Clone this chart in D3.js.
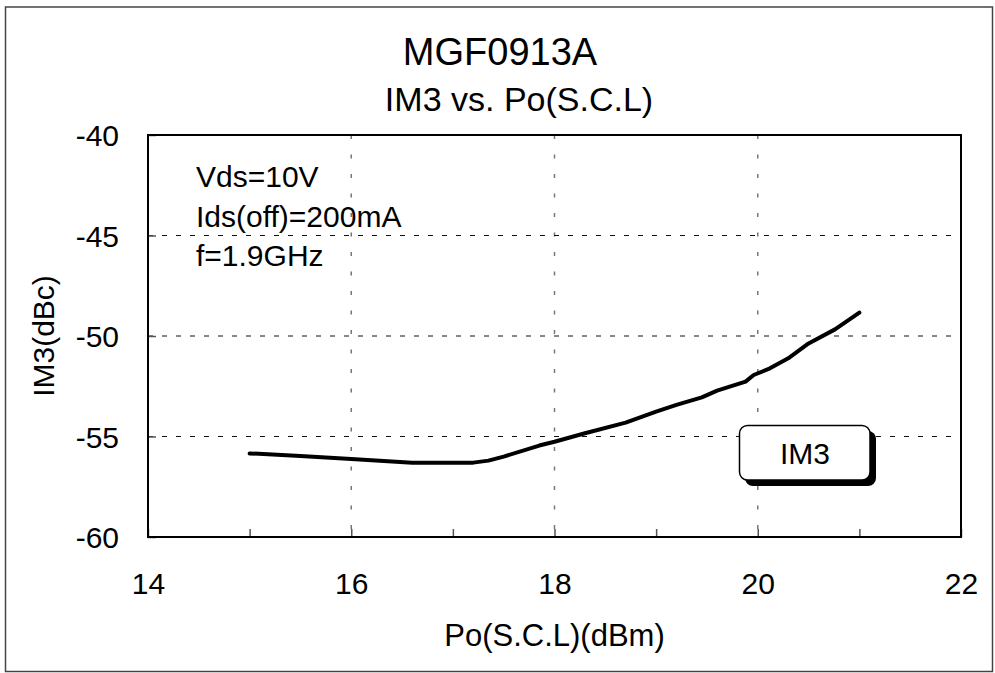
<!DOCTYPE html>
<html>
<head>
<meta charset="utf-8">
<script src="https://cdn.jsdelivr.net/npm/d3@7"></script>
<style>
  body { margin: 0; background: #fff; }
  text { font-family: "Liberation Sans", Arial, sans-serif; fill: #000; }
</style>
</head>
<body>
<div id="chart-area"></div>
<script>
const titleLines = ["MGF0913A", "IM3 vs. Po(S.C.L)"];
const noteLines = ["Vds=10V", "Ids(off)=200mA", "f=1.9GHz"];
const seriesName = "IM3";
const xTicks = [14, 15, 16, 17, 18, 19, 20, 21, 22];
const yTicks = [-60, -55, -50, -45, -40];
const po = [15, 15.5, 16, 16.6, 17.2, 17.35, 17.5, 17.85, 18, 18.3, 18.7, 19, 19.2, 19.45, 19.6, 19.88, 19.96, 20.12, 20.3, 20.5, 20.76, 21];
const im3 = [-55.84, -55.97, -56.12, -56.3, -56.3, -56.2, -56.0, -55.45, -55.26, -54.84, -54.31, -53.76, -53.43, -53.05, -52.72, -52.27, -51.94, -51.61, -51.11, -50.37, -49.67, -48.84];

const chartSize = { width: 995, height: 673 };
const plot = { left: 148, right: 961, top: 135, bottom: 537 };
const fontFamily = "Liberation Sans, Arial, sans-serif";

const svg = d3.select("#chart-area")
  .append("svg")
  .attr("width", chartSize.width)
  .attr("height", chartSize.height);

// outer frame
svg.append("rect")
  .attr("x", 5.5).attr("y", 7)
  .attr("width", 987).attr("height", 664.5)
  .attr("fill", "none")
  .attr("stroke", "#444")
  .attr("stroke-width", 1.5);

const x = d3.scaleLinear().domain([14, 22]).range([plot.left, plot.right]);
const y = d3.scaleLinear().domain([-60, -40]).range([plot.bottom, plot.top]);

// grid
svg.append("g")
  .selectAll("line")
  .data([16, 18, 20])
  .join("line")
  .attr("x1", d => x(d)).attr("x2", d => x(d))
  .attr("y1", plot.top).attr("y2", plot.bottom)
  .attr("stroke", "#777")
  .attr("stroke-width", 1.5)
  .attr("stroke-dasharray", "4,15.5");

svg.append("g")
  .selectAll("line")
  .data([-45, -50, -55])
  .join("line")
  .attr("x1", plot.left).attr("x2", plot.right)
  .attr("y1", d => y(d)).attr("y2", d => y(d))
  .attr("stroke", "#111")
  .attr("stroke-width", 1)
  .attr("stroke-dasharray", "5,9");

// axes
const xAxis = d3.axisBottom(x)
  .tickValues(xTicks)
  .tickSizeInner(-8)
  .tickSizeOuter(0)
  .tickPadding(36)
  .tickFormat(d => d % 2 === 0 ? String(d) : "");

const gx = svg.append("g")
  .attr("transform", `translate(0,${plot.bottom})`)
  .call(xAxis);
gx.select(".domain").remove();
gx.selectAll("line").attr("stroke", "#555").attr("stroke-width", 1.5);
gx.selectAll("text").attr("font-size", 30).attr("font-family", fontFamily);

const yAxis = d3.axisLeft(y)
  .tickValues(yTicks)
  .tickSizeInner(-8)
  .tickSizeOuter(0)
  .tickPadding(29)
  .tickFormat(d => String(d));

const gy = svg.append("g")
  .attr("transform", `translate(${plot.left},0)`)
  .call(yAxis);
gy.select(".domain").remove();
gy.selectAll("line").attr("stroke", "#555").attr("stroke-width", 1.5);
gy.selectAll("text")
  .attr("dy", "0.36em")
  .attr("font-size", 30)
  .attr("font-family", fontFamily);

// plot frame
svg.append("rect")
  .attr("x", plot.left).attr("y", plot.top)
  .attr("width", plot.right - plot.left)
  .attr("height", plot.bottom - plot.top)
  .attr("fill", "none")
  .attr("stroke", "#000")
  .attr("stroke-width", 2);

// curve
const line = d3.line()
  .x((d, i) => x(po[i]))
  .y(d => y(d));

svg.append("path")
  .datum(im3)
  .attr("d", line)
  .attr("fill", "none")
  .attr("stroke", "#000")
  .attr("stroke-width", 4)
  .attr("stroke-linecap", "round")
  .attr("stroke-linejoin", "round");

// titles
svg.append("text")
  .attr("x", 500).attr("y", 65)
  .attr("text-anchor", "middle")
  .attr("font-size", 38)
  .text(titleLines[0]);

svg.append("text")
  .attr("x", 519).attr("y", 111)
  .attr("text-anchor", "middle")
  .attr("font-size", 34)
  .text(titleLines[1]);

// axis labels
svg.append("text")
  .attr("x", (plot.left + plot.right) / 2).attr("y", 646)
  .attr("text-anchor", "middle")
  .attr("font-size", 31)
  .text("Po(S.C.L)(dBm)");

svg.append("text")
  .attr("transform", `translate(54,${(plot.top + plot.bottom) / 2}) rotate(-90)`)
  .attr("text-anchor", "middle")
  .attr("font-size", 30)
  .text("IM3(dBc)");

// conditions
svg.append("g")
  .selectAll("text")
  .data(noteLines)
  .join("text")
  .attr("x", 196)
  .attr("y", (d, i) => 187 + i * 39.5)
  .attr("font-size", 30)
  .text(d => d);

// legend box
const lg = svg.append("g");
lg.append("rect")
  .attr("x", 745).attr("y", 431)
  .attr("width", 131).attr("height", 55)
  .attr("rx", 8)
  .attr("fill", "#000");
lg.append("rect")
  .attr("x", 739.5).attr("y", 425.5)
  .attr("width", 130.5).attr("height", 54.5)
  .attr("rx", 8)
  .attr("fill", "#fff")
  .attr("stroke", "#000")
  .attr("stroke-width", 1.5);
lg.append("text")
  .attr("x", 805).attr("y", 464)
  .attr("text-anchor", "middle")
  .attr("font-size", 30)
  .text(seriesName);
</script>
</body>
</html>
